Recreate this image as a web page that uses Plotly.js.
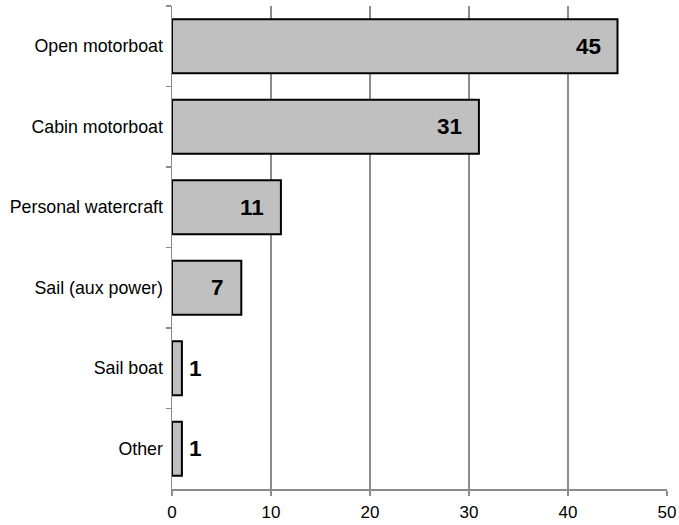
<!DOCTYPE html>
<html>
<head>
<meta charset="utf-8">
<script src="https://cdn.plot.ly/plotly-3.0.1.min.js"></script>
<style>html,body{margin:0;padding:0;background:#fff;}#chart{width:679px;height:525px;}</style>
</head>
<body>
<div id="chart"></div>
<script>
var categories = ["Open motorboat", "Cabin motorboat", "Personal watercraft", "Sail (aux power)", "Sail boat", "Other"];
var values = [45, 31, 11, 7, 1, 1];
var xTicks = [0, 10, 20, 30, 40, 50];

var annotations = categories.map(function (c, i) {
  var v = values[i];
  var inside = v >= 5;
  return {
    x: v, y: c, xref: 'x', yref: 'y',
    text: String(v), showarrow: false,
    xanchor: inside ? 'right' : 'left',
    xshift: inside ? -15 : 5,
    font: {family: 'Liberation Sans, Arial, sans-serif', size: 22.5, color: '#000', weight: 'bold'}
  };
});

var trace = {
  type: 'bar', orientation: 'h',
  x: values, y: categories,
  marker: {color: '#c0c0c0', line: {color: '#000', width: 2}},
  hoverinfo: 'none'
};

var layout = {
  width: 679, height: 525,
  margin: {l: 172, r: 12, t: 6, b: 36, pad: 0},
  paper_bgcolor: '#fff', plot_bgcolor: '#fff',
  showlegend: false,
  bargap: 0.33,
  font: {family: 'Liberation Sans, Arial, sans-serif', size: 16, color: '#000'},
  xaxis: {
    range: [0, 50], tickvals: xTicks, ticktext: xTicks.map(String),
    showgrid: true, gridcolor: '#8c8c8c', gridwidth: 1.5,
    zeroline: false, showline: true, linecolor: '#8c8c8c', linewidth: 1.5,
    ticks: 'outside', ticklen: 5, tickcolor: '#8c8c8c', tickwidth: 1.5,
    ticklabelstandoff: 2,
    tickfont: {size: 17}, fixedrange: true
  },
  yaxis: {
    autorange: 'reversed', showgrid: false, zeroline: false,
    showline: true, linecolor: '#8c8c8c', linewidth: 1.5,
    ticks: 'outside', ticklen: 5, tickcolor: '#8c8c8c', tickwidth: 1.5,
    tickson: 'boundaries', ticklabelstandoff: 4,
    tickfont: {size: 17.8}, fixedrange: true
  },
  annotations: annotations
};

Plotly.newPlot('chart', [trace], layout, {displayModeBar: false, staticPlot: true});
</script>
</body>
</html>
